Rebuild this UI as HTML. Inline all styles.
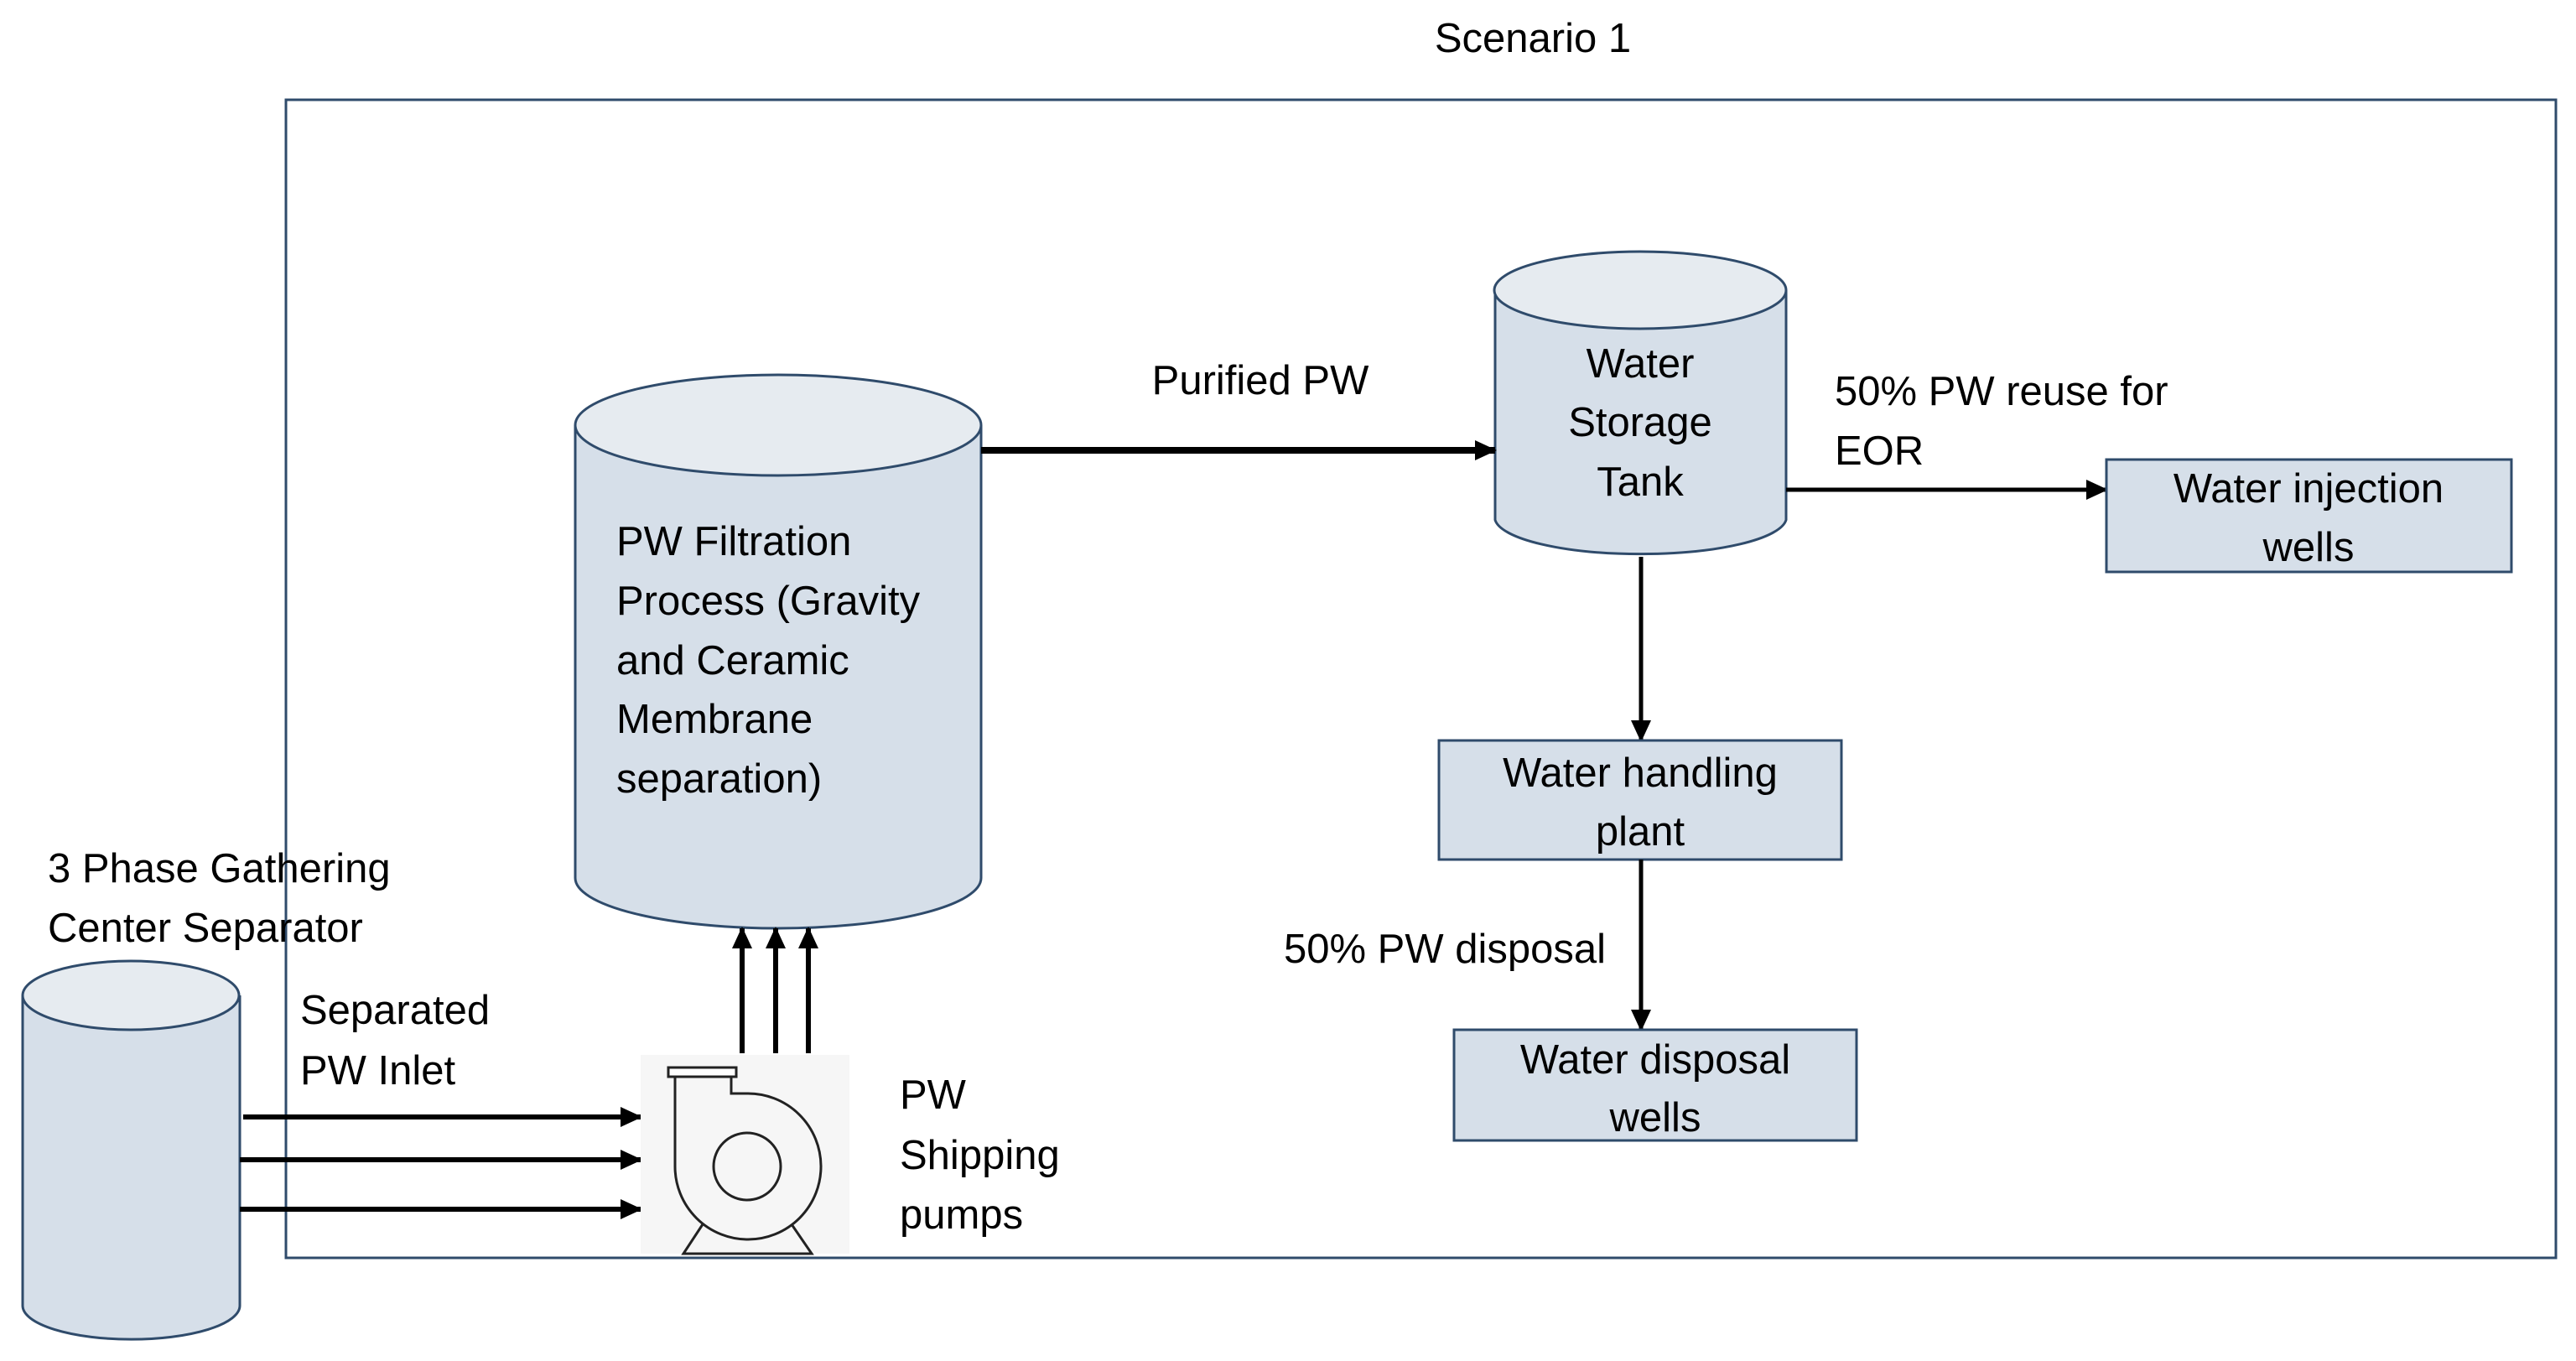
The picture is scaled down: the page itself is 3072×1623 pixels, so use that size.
<!DOCTYPE html>
<html><head><meta charset="utf-8"><style>
html,body{margin:0;padding:0;background:#fff;}
svg{display:block;}
text{font-family:"Liberation Sans",sans-serif;font-size:49px;fill:#000;}
</style></head><body>
<svg width="3072" height="1623" viewBox="0 0 3072 1623" xmlns="http://www.w3.org/2000/svg">
<defs>
<marker id="ah2" markerWidth="26" markerHeight="24" refX="24" refY="12" orient="auto" markerUnits="userSpaceOnUse">
<path d="M0,0 L26,12 L0,24 z" fill="#000"/>
</marker>
</defs>
<text x="1828" y="62" text-anchor="middle">Scenario 1</text>
<rect x="341" y="119" width="2707" height="1381" fill="none" stroke="#2f4b6b" stroke-width="3"/>

<path d="M686,507 V1047 A242,60 0 0 0 1170,1047 V507" fill="#d6dfe9" stroke="#2f4b6b" stroke-width="3"/>
<ellipse cx="928" cy="507" rx="242" ry="60" fill="#e6ebf0" stroke="#2f4b6b" stroke-width="3"/>
<text x="735" y="662">PW Filtration</text>
<text x="735" y="733">Process (Gravity</text>
<text x="735" y="804">and Ceramic</text>
<text x="735" y="874">Membrane</text>
<text x="735" y="945">separation)</text>

<path d="M1783,346 V620 A174,44 0 0 0 2130,620 V346" fill="#d6dfe9" stroke="#2f4b6b" stroke-width="3"/>
<ellipse cx="1956" cy="346" rx="174" ry="46" fill="#e6ebf0" stroke="#2f4b6b" stroke-width="3"/>
<text x="1956" y="450" text-anchor="middle">Water</text>
<text x="1956" y="520" text-anchor="middle">Storage</text>
<text x="1956" y="591" text-anchor="middle">Tank</text>

<text x="1503" y="470" text-anchor="middle">Purified PW</text>
<line x1="1170" y1="537" x2="1783" y2="537" stroke="#000" stroke-width="8" marker-end="url(#ah2)"/>

<text x="2188" y="483">50% PW reuse for</text>
<text x="2188" y="554">EOR</text>
<line x1="2130" y1="584" x2="2512" y2="584" stroke="#000" stroke-width="5" marker-end="url(#ah2)"/>

<rect x="2512" y="548" width="483" height="134" fill="#d6dfe9" stroke="#2f4b6b" stroke-width="3"/>
<text x="2753" y="599" text-anchor="middle">Water injection</text>
<text x="2753" y="669" text-anchor="middle">wells</text>

<line x1="1957" y1="664" x2="1957" y2="883" stroke="#000" stroke-width="5" marker-end="url(#ah2)"/>
<rect x="1716" y="883" width="480" height="142" fill="#d6dfe9" stroke="#2f4b6b" stroke-width="3"/>
<text x="1956" y="938" text-anchor="middle">Water handling</text>
<text x="1956" y="1008" text-anchor="middle">plant</text>

<line x1="1957" y1="1025" x2="1957" y2="1228" stroke="#000" stroke-width="5" marker-end="url(#ah2)"/>
<text x="1723" y="1148" text-anchor="middle">50% PW disposal</text>
<rect x="1734" y="1228" width="480" height="132" fill="#d6dfe9" stroke="#2f4b6b" stroke-width="3"/>
<text x="1974" y="1280" text-anchor="middle">Water disposal</text>
<text x="1974" y="1349" text-anchor="middle">wells</text>

<path d="M27,1187 V1557 A129,40 0 0 0 286,1557 V1187" fill="#d6dfe9" stroke="#2f4b6b" stroke-width="3"/>
<ellipse cx="156" cy="1187" rx="129" ry="41" fill="#e6ebf0" stroke="#2f4b6b" stroke-width="3"/>
<text x="57" y="1052">3 Phase Gathering</text>
<text x="57" y="1123">Center Separator</text>
<text x="358" y="1221">Separated</text>
<text x="358" y="1293">PW Inlet</text>

<line x1="290" y1="1332" x2="764" y2="1332" stroke="#000" stroke-width="6" marker-end="url(#ah2)"/>
<line x1="286" y1="1383" x2="764" y2="1383" stroke="#000" stroke-width="6" marker-end="url(#ah2)"/>
<line x1="286" y1="1442" x2="764" y2="1442" stroke="#000" stroke-width="6" marker-end="url(#ah2)"/>

<rect x="764" y="1258" width="249" height="237" fill="#f6f6f6"/>
<g fill="none" stroke="#222" stroke-width="3">
<rect x="797" y="1273" width="81" height="11" fill="#fff"/>
<path d="M805,1284 L805,1391 A87,87 0 1 0 891,1304 L872,1304 L872,1284"/>
<circle cx="891" cy="1391" r="40"/>
<path d="M838,1460 L815,1495 L968,1495 L944,1460"/>
</g>
<line x1="885" y1="1256" x2="885" y2="1107" stroke="#000" stroke-width="6" marker-end="url(#ah2)"/>
<line x1="925" y1="1256" x2="925" y2="1107" stroke="#000" stroke-width="6" marker-end="url(#ah2)"/>
<line x1="964" y1="1256" x2="964" y2="1107" stroke="#000" stroke-width="6" marker-end="url(#ah2)"/>

<text x="1073" y="1322">PW</text>
<text x="1073" y="1394">Shipping</text>
<text x="1073" y="1465">pumps</text>
</svg>
</body></html>
